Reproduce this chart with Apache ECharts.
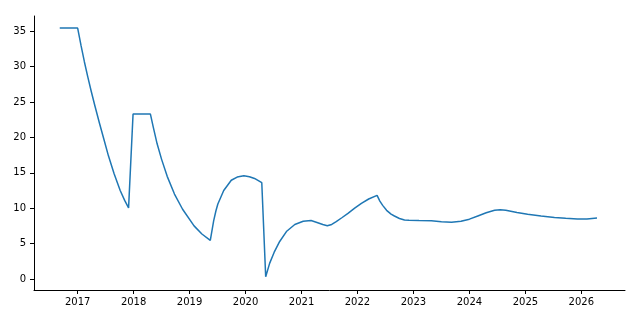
<!DOCTYPE html>
<html>
<head>
<meta charset="utf-8">
<script src="https://cdn.jsdelivr.net/npm/echarts@6/dist/echarts.min.js"></script>
<style>html,body{margin:0;padding:0;background:#fff}#c{width:640px;height:320px}</style>
</head>
<body>
<div id="c"></div>
<script>
const years = [2016.68,2017.00,2017.06,2017.12,2017.18,2017.24,2017.31,2017.39,2017.47,2017.55,2017.65,2017.76,2017.84,2017.91,
2017.99,2018.30,2018.35,2018.42,2018.50,2018.60,2018.73,2018.875,2019.08,2019.22,2019.37,
2019.43,2019.47,2019.505,2019.61,2019.745,2019.85,2019.97,2020.07,2020.16,2020.29,
2020.36,2020.43,2020.51,2020.61,2020.73,2020.88,2021.03,2021.17,2021.29,2021.38,2021.46,
2021.54,2021.62,2021.72,2021.83,2021.95,2022.07,2022.20,2022.35,
2022.40,2022.45,2022.52,2022.60,2022.66,2022.75,2022.84,2022.92,2023.10,2023.32,2023.50,2023.68,2023.85,
2024.00,2024.15,2024.30,2024.45,2024.55,2024.65,2024.85,2025.04,2025.28,2025.52,2025.72,2025.93,2026.10,2026.28];
const values = [35.45,35.45,33.0,30.7,28.6,26.6,24.4,22.0,19.7,17.4,14.9,12.5,11.1,10.05,
23.3,23.3,21.5,19.1,16.9,14.5,12.0,9.85,7.5,6.35,5.45,
8.2,9.6,10.6,12.5,13.95,14.4,14.58,14.45,14.2,13.6,
0.32,2.2,3.75,5.3,6.7,7.7,8.15,8.25,7.95,7.7,7.52,
7.7,8.1,8.65,9.27,10.0,10.68,11.3,11.81,
11.0,10.4,9.7,9.17,8.9,8.55,8.33,8.28,8.25,8.23,8.1,8.02,8.15,
8.45,8.9,9.35,9.72,9.78,9.72,9.4,9.13,8.9,8.7,8.57,8.47,8.47,8.6];
const xTicks = [2017,2018,2019,2020,2021,2022,2023,2024,2025,2026];
const yTicks = [0,5,10,15,20,25,30,35];

const chart = echarts.init(document.getElementById('c'), null, {renderer:'canvas'});
const font = 'DejaVu Sans';
chart.setOption({
  animation:false,
  grid:{left:34,right:15,top:16,bottom:30},
  xAxis:{
    type:'value', min:2016.22, max:2026.78,
    axisLine:{show:true,onZero:false,lineStyle:{color:'#000',width:1}},
    axisTick:{show:true,length:4,inside:false,customValues:xTicks,lineStyle:{color:'#000'}},
    axisLabel:{customValues:xTicks,color:'#000',fontFamily:font,fontSize:10,margin:7,formatter:v=>String(Math.round(v))},
    splitLine:{show:false}
  },
  yAxis:{
    type:'value', min:-1.56, max:37.16,
    axisLine:{show:true,onZero:false,lineStyle:{color:'#000',width:1}},
    axisTick:{show:true,length:4,inside:false,customValues:yTicks,lineStyle:{color:'#000'}},
    axisLabel:{customValues:yTicks,color:'#000',fontFamily:font,fontSize:10,margin:8},
    splitLine:{show:false}
  },
  series:[{
    type:'line', showSymbol:false, smooth:false,
    data: years.map((y,i)=>[y, values[i]]),
    lineStyle:{color:'#1f77b4',width:1.5},
    itemStyle:{color:'#1f77b4'}
  }]
});
</script>
</body>
</html>
